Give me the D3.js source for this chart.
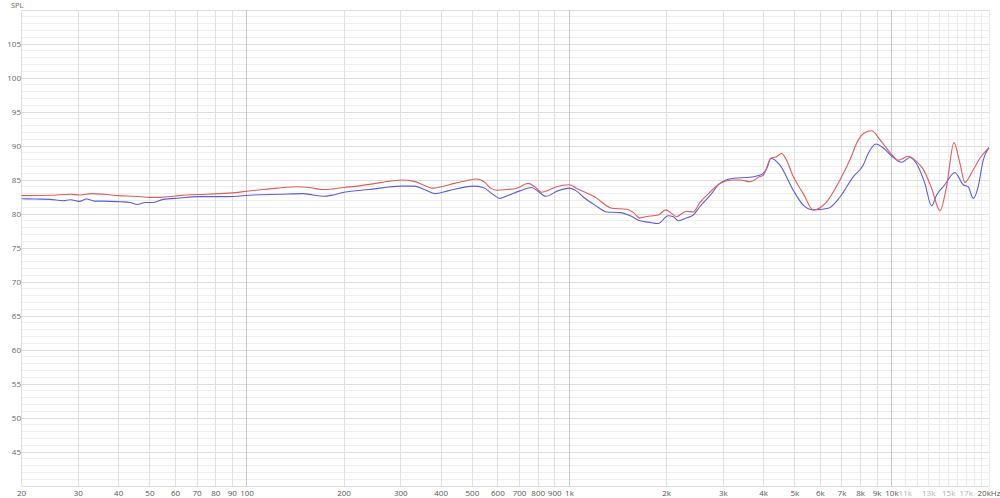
<!DOCTYPE html>
<html>
<head>
<meta charset="utf-8">
<title>SPL</title>
<script src="https://cdn.jsdelivr.net/npm/d3@7/dist/d3.min.js"></script>
<style>
  body { margin: 0; background: #fff; }
  text { font-family: "Open Sans", "Noto Sans", sans-serif; }
</style>
</head>
<body>
<div id="chart"></div>
<script>
// red curve
var redFreq = [20, 25, 28.3, 30.3, 33, 36, 40, 45, 50, 54, 60, 65, 75, 82, 90, 100, 112, 124, 143, 158, 172, 185, 200, 220, 250, 280, 302, 330, 355, 376, 400, 440, 480, 515, 545, 570, 594, 640, 686, 745, 780, 820, 870, 912, 1000, 1050, 1104, 1200, 1352, 1504, 1580, 1654, 1720, 1780, 1884, 1990, 2060, 2150, 2250, 2308, 2421, 2540, 2727, 2928, 3220, 3400, 3628, 3896, 3990, 4215, 4376, 4550, 4700, 4943, 5309, 5703, 6276, 6902, 7414, 7866, 8200, 8654, 9190, 10000, 10460, 11230, 11930, 12500, 13270, 14090, 14780, 15570, 16240, 16830, 17870, 18740, 20000];
var redSpl = [82.7, 82.75, 82.9, 82.8, 83.0, 82.9, 82.7, 82.6, 82.45, 82.45, 82.65, 82.8, 82.9, 83.0, 83.1, 83.35, 83.6, 83.8, 84.0, 83.85, 83.6, 83.7, 83.9, 84.1, 84.5, 84.85, 85.0, 84.8, 84.2, 83.8, 84.0, 84.5, 84.9, 85.15, 84.7, 83.8, 83.5, 83.6, 83.8, 84.5, 84.0, 83.2, 83.6, 84.0, 84.3, 83.8, 83.3, 82.5, 80.85, 80.7, 80.2, 79.4, 79.6, 79.7, 79.85, 80.6, 80.2, 79.6, 80.2, 80.4, 80.3, 81.7, 83.2, 84.5, 85.0, 85.0, 84.75, 85.5, 85.7, 88.2, 88.4, 88.9, 88.0, 85.5, 83.0, 80.6, 81.8, 85.0, 88.0, 90.9, 91.9, 92.25, 90.9, 88.7, 87.9, 88.5, 87.7, 86.6, 83.8, 80.5, 84.1, 90.5, 87.5, 84.65, 86.5, 88.2, 89.75];

// blue curve
var blueFreq = [20, 22, 24.5, 26.9, 28.3, 30.2, 31.8, 33.7, 36, 40.4, 43.4, 45.7, 48.3, 51.2, 55, 62, 70, 86.5, 105, 126, 149, 160, 172, 185, 200, 240, 300, 330, 355, 383, 420, 503, 540, 575, 609, 650, 702, 764, 800, 845, 920, 1000, 1050, 1104, 1200, 1304, 1434, 1550, 1654, 1760, 1884, 2024, 2100, 2175, 2300, 2421, 2540, 2727, 2928, 3220, 3628, 3942, 4100, 4215, 4493, 4943, 5309, 5703, 6349, 6902, 7590, 8149, 8441, 8920, 9410, 10000, 10720, 11370, 12050, 12650, 13270, 13760, 14590, 15670, 16630, 17240, 17870, 18510, 19180, 20000];
var blueSpl = [82.25, 82.2, 82.15, 81.95, 82.1, 81.85, 82.2, 81.9, 81.9, 81.8, 81.7, 81.4, 81.7, 81.7, 82.15, 82.35, 82.55, 82.55, 82.8, 82.9, 83.0, 82.8, 82.6, 82.8, 83.2, 83.6, 84.1, 84.1, 83.6, 83.0, 83.4, 84.1, 83.9, 83.0, 82.3, 82.8, 83.4, 83.9, 83.3, 82.6, 83.4, 83.8, 83.4, 82.5, 81.3, 80.3, 80.2, 79.7, 79.0, 78.8, 78.6, 79.75, 79.6, 79.0, 79.4, 79.85, 81.1, 82.7, 84.5, 85.25, 85.4, 85.8, 86.8, 88.2, 87.2, 83.5, 81.3, 80.6, 80.85, 82.5, 85.5, 87.2, 88.9, 90.3, 89.7, 88.5, 87.6, 88.3, 87.0, 84.5, 81.2, 82.8, 84.3, 86.1, 84.3, 84.0, 82.3, 84.0, 87.9, 89.75];

// axis labels
var xLabels = [20, 30, 40, 50, 60, 70, 80, 90, 100, 200, 300, 400, 500, 600, 700, 800, 900, 1000, 2000, 3000, 4000, 5000, 6000, 7000, 8000, 9000, 10000, 11000, 13000, 15000, 17000, 20000];
var xLabelsFaint = [11000, 13000, 15000, 17000];
var yLabels = [45, 50, 55, 60, 65, 70, 75, 80, 85, 90, 95, 100, 105];

var W = 1000, H = 498;
// plot box (avoid "top", it is a window property)
var plotL = 21.6, plotR = 989, plotT = 10, plotB = 486;

var svg = d3.select("#chart").append("svg")
  .attr("width", W)
  .attr("height", H);

var x = d3.scaleLog().domain([20, 20000]).range([plotL, plotR]);
var y = d3.scaleLinear().domain([40, 110]).range([plotB, plotT]);

// horizontal grid, 1 dB
var grid = svg.append("g").attr("shape-rendering", "crispEdges");
grid.selectAll(".hl")
  .data(d3.range(40, 111))
  .enter().append("line")
  .attr("x1", plotL).attr("x2", plotR)
  .attr("y1", function(d) { return y(d); })
  .attr("y2", function(d) { return y(d); })
  .attr("stroke", function(d) { return d % 5 == 0 ? "#dedede" : "#efefef"; })
  .attr("stroke-width", 1);

// vertical grid
var vlines = [];
[10, 100, 1000, 10000].forEach(function(dec) {
  for (var k = 1; k < 10; k++) {
    var f = dec * k;
    if (f >= 20 && f <= 20000) vlines.push(f);
  }
});
vlines.push(20000);
for (var f = 11000; f < 20000; f += 1000) vlines.push(f);

grid.selectAll(".vl")
  .data(vlines)
  .enter().append("line")
  .attr("x1", function(d) { return x(d); })
  .attr("x2", function(d) { return x(d); })
  .attr("y1", plotT).attr("y2", plotB)
  .attr("stroke", function(d) {
    if (d == 100 || d == 1000 || d == 10000) return "#c8c8c8";
    if (d > 10000) return "#ececec";
    return "#e0e0e0";
  })
  .attr("stroke-width", 1);

// y labels
svg.append("g").selectAll("text")
  .data(yLabels)
  .enter().append("text")
  .attr("x", 21)
  .attr("y", function(d) { return y(d); })
  .attr("dy", "0.35em")
  .attr("text-anchor", "end")
  .attr("font-size", 8)
  .attr("fill", "#666")
  .text(function(d) { return d; });

svg.append("text")
  .attr("x", 11).attr("y", 8)
  .attr("font-size", 7.5)
  .attr("fill", "#666")
  .text("SPL");

// x labels
function fmt(f) {
  if (f == 20000) return "20kHz";
  if (f >= 1000) return (f / 1000) + "k";
  return f;
}
svg.append("g").selectAll("text")
  .data(xLabels)
  .enter().append("text")
  .attr("x", function(d) { return x(d); })
  .attr("y", 496)
  .attr("text-anchor", "middle")
  .attr("font-size", 8)
  .attr("fill", function(d) { return xLabelsFaint.indexOf(d) >= 0 ? "#b0b0b0" : "#555"; })
  .text(fmt);

// curves
var line = d3.line()
  .x(function(d) { return x(d[0]); })
  .y(function(d) { return y(d[1]); })
  .curve(d3.curveMonotoneX);

svg.append("path")
  .datum(d3.zip(blueFreq, blueSpl))
  .attr("d", line)
  .attr("fill", "none")
  .attr("stroke", "#5c5ce0")
  .attr("stroke-width", 1.1);

svg.append("path")
  .datum(d3.zip(redFreq, redSpl))
  .attr("d", line)
  .attr("fill", "none")
  .attr("stroke", "#e25c5c")
  .attr("stroke-width", 1.1);
</script>
</body>
</html>
